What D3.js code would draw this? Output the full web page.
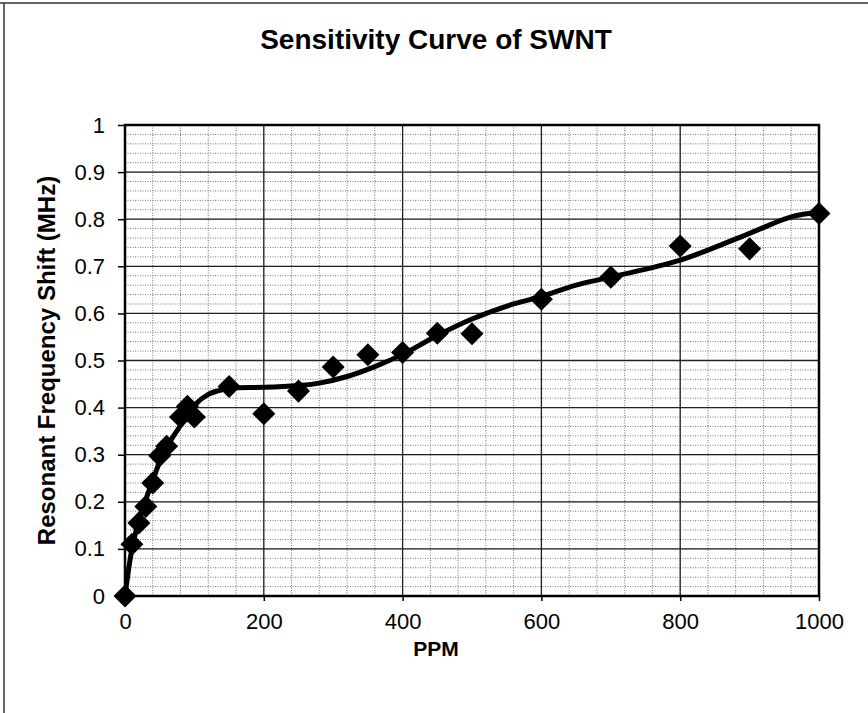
<!DOCTYPE html>
<html>
<head>
<meta charset="utf-8">
<script src="https://cdn.jsdelivr.net/npm/d3@7"></script>
<style>
  html, body { margin: 0; padding: 0; background: #fff; }
  svg { display: block; font-family: "Liberation Sans", Arial, sans-serif; }
</style>
</head>
<body>
<svg id="chart" width="868" height="713"></svg>
<script>
// Measured sensor response
const ppm   = [0, 10, 20, 30, 40, 50, 60, 80, 90, 100, 150, 200, 250, 300, 350, 400, 450, 500, 600, 700, 800, 900, 1000];
const shift = [0, 0.11, 0.155, 0.19, 0.24, 0.298, 0.318, 0.38, 0.403, 0.38, 0.445, 0.387, 0.435, 0.486, 0.512, 0.517, 0.558, 0.557, 0.63, 0.677, 0.743, 0.737, 0.812];

// Smoothed sensitivity curve
const fitPpm   = [0, 10, 20, 30, 40, 50, 60, 70, 80, 90, 100, 120, 140, 160, 200, 250, 280, 320, 360, 400, 450, 500, 560, 600, 650, 700, 800, 900, 960, 1000];
const fitShift = [0, 0.10, 0.16, 0.205, 0.245, 0.285, 0.315, 0.34, 0.362, 0.385, 0.405, 0.428, 0.438, 0.442, 0.443, 0.447, 0.452, 0.466, 0.487, 0.513, 0.553, 0.588, 0.62, 0.636, 0.66, 0.677, 0.713, 0.77, 0.805, 0.814];

const xTicks = [0, 200, 400, 600, 800, 1000];
const yTicks = [0, 0.1, 0.2, 0.3, 0.4, 0.5, 0.6, 0.7, 0.8, 0.9, 1];

const svg = d3.select("#chart");
const W = 868, H = 713;
const plotL = 125, plotR = 819, plotT = 125, plotB = 596;

const x = d3.scaleLinear().domain([0, 1000]).range([plotL, plotR]);
const y = d3.scaleLinear().domain([0, 1]).range([plotB, plotT]);

// outer frame (top and left edges)
svg.append("line").attr("x1", 0).attr("x2", W).attr("y1", 3).attr("y2", 3)
  .attr("stroke", "#333").attr("stroke-width", 1.5);
svg.append("line").attr("x1", 4).attr("x2", 4).attr("y1", 3).attr("y2", H)
  .attr("stroke", "#333").attr("stroke-width", 1.5);

// title
svg.append("text").attr("x", 436).attr("y", 49)
  .attr("text-anchor", "middle").attr("font-weight", "bold")
  .attr("font-size", 28).text("Sensitivity Curve of SWNT");

const grid = svg.append("g");
// minor gridlines
grid.selectAll(".ymin").data(d3.range(0, 1.0001, 0.02)).join("line")
  .attr("x1", plotL).attr("x2", plotR)
  .attr("y1", d => y(d)).attr("y2", d => y(d))
  .attr("stroke", "#777").attr("stroke-width", 1).attr("stroke-dasharray", "1,1.5");
grid.selectAll(".xmin").data(d3.range(0, 1000.1, 40)).join("line")
  .attr("y1", plotT).attr("y2", plotB)
  .attr("x1", d => x(d)).attr("x2", d => x(d))
  .attr("stroke", "#777").attr("stroke-width", 1).attr("stroke-dasharray", "1,1.5");
// major gridlines
grid.selectAll(".ymaj").data(yTicks).join("line")
  .attr("x1", plotL).attr("x2", plotR)
  .attr("y1", d => y(d)).attr("y2", d => y(d))
  .attr("stroke", "#222").attr("stroke-width", 1.3);
grid.selectAll(".xmaj").data(xTicks).join("line")
  .attr("y1", plotT).attr("y2", plotB)
  .attr("x1", d => x(d)).attr("x2", d => x(d))
  .attr("stroke", "#222").attr("stroke-width", 1.3);

// axes
const xAxis = d3.axisBottom(x).tickValues(xTicks).tickSize(5).tickPadding(12).tickFormat(d3.format("d"));
const yAxis = d3.axisLeft(y).tickValues(yTicks).tickSize(7).tickPadding(13).tickFormat(d => d === 0 ? "0" : d === 1 ? "1" : d3.format(".1f")(d));

const gx = svg.append("g").attr("transform", `translate(0,${plotB})`).call(xAxis);
const gy = svg.append("g").attr("transform", `translate(${plotL},0)`).call(yAxis);
[gx, gy].forEach(g => {
  g.select(".domain").remove();
  g.selectAll("line").attr("stroke", "#000").attr("stroke-width", 1.5);
  g.selectAll("text").attr("font-size", 22).attr("fill", "#000")
    .attr("font-family", "'Liberation Sans', Arial, sans-serif");
});

// plot border
svg.append("rect").attr("x", plotL).attr("y", plotT)
  .attr("width", plotR - plotL).attr("height", plotB - plotT)
  .attr("fill", "none").attr("stroke", "#000").attr("stroke-width", 2.5);

// axis titles
svg.append("text").attr("x", 436).attr("y", 656)
  .attr("text-anchor", "middle").attr("font-weight", "bold")
  .attr("font-size", 21).text("PPM");
svg.append("text")
  .attr("transform", `translate(55,${(plotT + plotB) / 2}) rotate(-90)`)
  .attr("text-anchor", "middle").attr("font-weight", "bold")
  .attr("font-size", 24).text("Resonant Frequency Shift (MHz)");

// fitted curve
const fit = fitPpm.map((p, i) => [p, fitShift[i]]);
const line = d3.line().x(d => x(d[0])).y(d => y(d[1])).curve(d3.curveCatmullRom.alpha(0.5));
svg.append("path").datum(fit).attr("d", line)
  .attr("fill", "none").attr("stroke", "#000").attr("stroke-width", 5)
  .attr("stroke-linejoin", "round").attr("stroke-linecap", "round");

// data markers (diamonds)
const diamond = d3.symbol().type(d3.symbolSquare).size(265);
svg.append("g").selectAll("path").data(ppm.map((p, i) => [p, shift[i]])).join("path")
  .attr("d", diamond)
  .attr("transform", d => `translate(${x(d[0])},${y(d[1])}) rotate(45)`)
  .attr("fill", "#000");
</script>
</body>
</html>
